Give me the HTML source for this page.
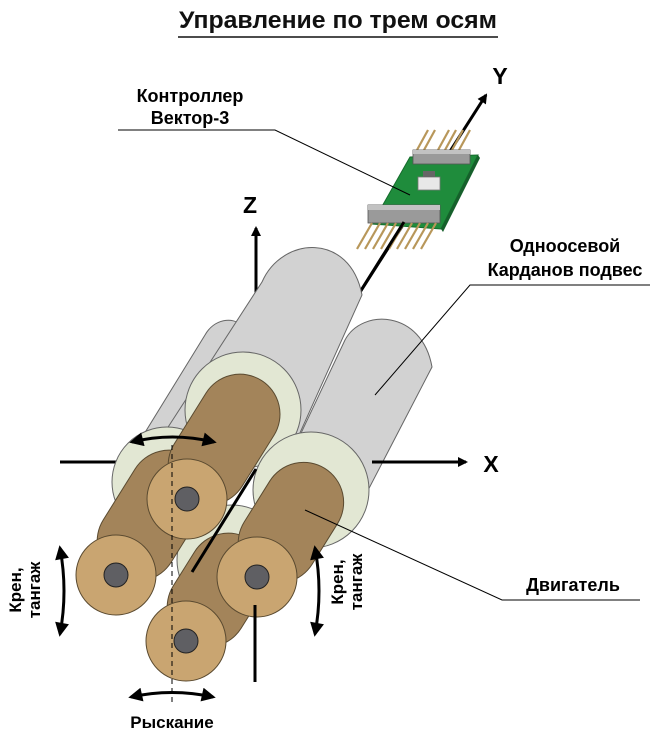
<!DOCTYPE html>
<html><head><meta charset="utf-8"><style>
html,body{margin:0;padding:0;background:#fff;}
svg{display:block;font-family:"Liberation Sans",Arial,sans-serif;font-weight:bold;}
</style></head><body>
<svg width="650" height="733" viewBox="0 0 650 733" xmlns="http://www.w3.org/2000/svg">
<defs>
<marker id="ah" markerWidth="10" markerHeight="10" refX="8" refY="5" orient="auto" markerUnits="userSpaceOnUse"><path d="M0,0 L10,5 L0,10 Z" fill="#000"/></marker>
<marker id="ab" viewBox="0 0 10 10" markerWidth="18" markerHeight="14" refX="8" refY="5" orient="auto-start-reverse" markerUnits="userSpaceOnUse"><path d="M0,0 L10,5 L0,10 Z" fill="#000"/></marker>
</defs>

<text x="338" y="28" font-size="24" text-anchor="middle" fill="#111" textLength="318" lengthAdjust="spacingAndGlyphs">Управление по трем осям</text>
<line x1="178" y1="37" x2="498" y2="37" stroke="#111" stroke-width="1.5"/>

<text x="190" y="102" font-size="18" text-anchor="middle">Контроллер</text>
<text x="190" y="124" font-size="18" text-anchor="middle">Вектор-3</text>
<text x="565" y="252" font-size="18" text-anchor="middle">Одноосевой</text>
<text x="565" y="276" font-size="18" text-anchor="middle">Карданов подвес</text>
<text x="573" y="591" font-size="18" text-anchor="middle">Двигатель</text>

<text x="250" y="213" font-size="23" text-anchor="middle">Z</text>
<text x="500" y="84" font-size="23" text-anchor="middle">Y</text>
<text x="491" y="472" font-size="23" text-anchor="middle">X</text>

<line x1="256" y1="345" x2="256" y2="228" stroke="#000" stroke-width="3" marker-end="url(#ah)"/>
<line x1="60" y1="462" x2="118" y2="462" stroke="#000" stroke-width="3"/>
<line x1="355" y1="300" x2="486" y2="95" stroke="#000" stroke-width="3" marker-end="url(#ah)"/>

<!-- board -->
<g stroke="#b8975a" stroke-width="2.2">
<line x1="417" y1="150" x2="428" y2="130"/><line x1="424" y1="150" x2="435" y2="130"/>
<line x1="438" y1="150" x2="449" y2="130"/><line x1="445" y1="150" x2="456" y2="130"/>
<line x1="452" y1="150" x2="463" y2="130"/><line x1="459" y1="150" x2="470" y2="130"/>
</g>
<polygon points="410,157 478,155 441,229 372,224" fill="#1f8c3c" stroke="#156b2c" stroke-width="1"/>
<polygon points="441,229 478,155 480,158 443,232" fill="#16602b"/>
<rect x="413" y="150" width="57" height="14" fill="#9a9a9a" stroke="#555" stroke-width="0.8"/>
<rect x="413" y="150" width="57" height="4" fill="#c2c2c2"/>
<rect x="418" y="177" width="22" height="13" fill="#e8e8e8" stroke="#777" stroke-width="0.8"/>
<rect x="423" y="171" width="12" height="6" fill="#666"/>
<rect x="368" y="205" width="72" height="18" fill="#9a9a9a" stroke="#555" stroke-width="0.8"/>
<rect x="368" y="205" width="72" height="5" fill="#c2c2c2"/>
<g stroke="#b8975a" stroke-width="2.2">
<line x1="372" y1="223" x2="357" y2="249"/><line x1="380" y1="223" x2="365" y2="249"/>
<line x1="388" y1="223" x2="373" y2="249"/><line x1="396" y1="223" x2="381" y2="249"/>
<line x1="404" y1="223" x2="389" y2="249"/><line x1="412" y1="223" x2="397" y2="249"/>
<line x1="420" y1="223" x2="405" y2="249"/><line x1="428" y1="223" x2="413" y2="249"/>
<line x1="436" y1="223" x2="421" y2="249"/>
</g>
<line x1="360" y1="292" x2="404" y2="222" stroke="#000" stroke-width="3"/>

<!-- grey cylinders -->
<g stroke="#666" stroke-width="1" fill="#d2d2d2">
<path d="M125,465 L205,335 C214,319 233,316 242,326 L190,470 Z"/>
<path d="M150,455 L262,282 C282,236 350,232 362,295 L290,455 Z"/>
<path d="M260,520 L345,340 C362,308 422,310 432,367 L350,525 Z"/>
</g>
<g stroke="#666" stroke-width="1" fill="#e2e7d3">
<circle cx="167" cy="482" r="55"/>
<circle cx="243" cy="410" r="58"/>
<circle cx="232" cy="560" r="55"/>
<circle cx="311" cy="490" r="58"/>
</g>

<line x1="372" y1="462" x2="466" y2="462" stroke="#000" stroke-width="3" marker-end="url(#ah)"/>

<!-- brown cylinders -->
<g stroke="#5a4a30" stroke-width="1">
<g transform="translate(116,575) rotate(-58)"><rect x="0" y="-40" width="140" height="80" rx="40" fill="#a3845a"/></g>
<circle cx="116" cy="575" r="40" fill="#c9a571"/><circle cx="116" cy="575" r="12" fill="#5f5f63" stroke="#222"/>
<g transform="translate(187,499) rotate(-58)"><rect x="0" y="-40" width="140" height="80" rx="40" fill="#a3845a"/></g>
<circle cx="187" cy="499" r="40" fill="#c9a571"/><circle cx="187" cy="499" r="12" fill="#5f5f63" stroke="#222"/>
<g transform="translate(186,641) rotate(-58)"><rect x="0" y="-40" width="120" height="80" rx="40" fill="#a3845a"/></g>
<circle cx="186" cy="641" r="40" fill="#c9a571"/><circle cx="186" cy="641" r="12" fill="#5f5f63" stroke="#222"/>
<g transform="translate(257,577) rotate(-58)"><rect x="0" y="-40" width="128" height="80" rx="40" fill="#a3845a"/></g>
<circle cx="257" cy="577" r="40" fill="#c9a571"/><circle cx="257" cy="577" r="12" fill="#5f5f63" stroke="#222"/>
</g>

<line x1="192" y1="572" x2="256" y2="469" stroke="#000" stroke-width="3"/>
<line x1="255" y1="605" x2="255" y2="682" stroke="#000" stroke-width="3"/>

<polyline points="118,130 275,130 410,195" fill="none" stroke="#000" stroke-width="1"/>
<polyline points="650,285 470,285 375,395" fill="none" stroke="#000" stroke-width="1"/>
<polyline points="640,600 502,600 305,510" fill="none" stroke="#000" stroke-width="1"/>

<line x1="172" y1="445" x2="172" y2="705" stroke="#000" stroke-width="1" stroke-dasharray="5,4"/>

<path d="M132,442 Q172,432 214,442" fill="none" stroke="#000" stroke-width="3" marker-start="url(#ab)" marker-end="url(#ab)"/>
<path d="M131,697 Q172,688 213,697" fill="none" stroke="#000" stroke-width="3" marker-start="url(#ab)" marker-end="url(#ab)"/>
<path d="M60,548 Q68,591 60,634" fill="none" stroke="#000" stroke-width="3" marker-start="url(#ab)" marker-end="url(#ab)"/>
<path d="M315,548 Q323,591 315,634" fill="none" stroke="#000" stroke-width="3" marker-start="url(#ab)" marker-end="url(#ab)"/>

<text x="172" y="728" font-size="17" text-anchor="middle">Рыскание</text>
<text transform="translate(21,590) rotate(-90)" font-size="17" text-anchor="middle">Крен,</text>
<text transform="translate(40,590) rotate(-90)" font-size="17" text-anchor="middle">тангаж</text>
<text transform="translate(343,582) rotate(-90)" font-size="17" text-anchor="middle">Крен,</text>
<text transform="translate(362,582) rotate(-90)" font-size="17" text-anchor="middle">тангаж</text>
</svg>
</body></html>
